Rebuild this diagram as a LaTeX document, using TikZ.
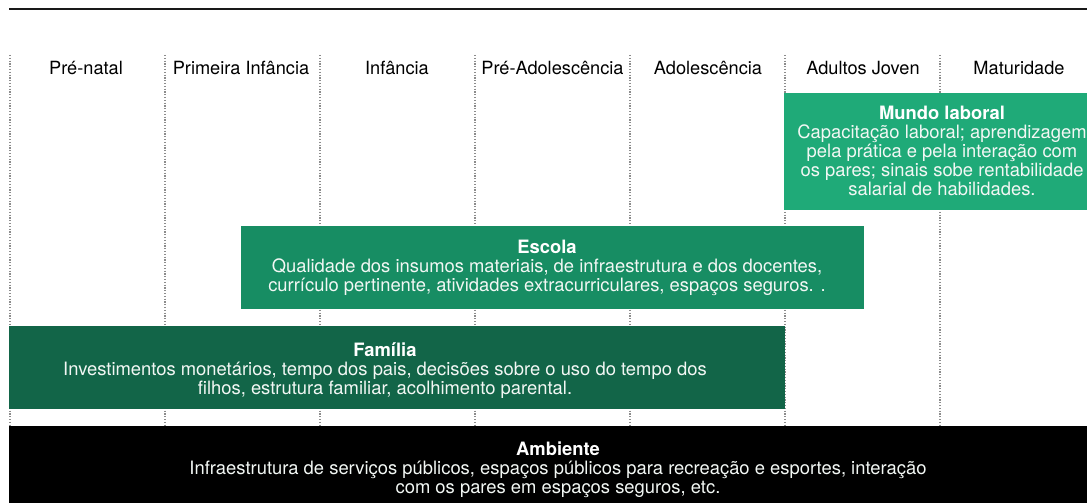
\documentclass[tikz,border=0pt]{standalone}
\usepackage{fontspec}
\setmainfont{TeX Gyre Heros}
\definecolor{cMundo}{HTML}{1FAA78}
\definecolor{cEscola}{HTML}{178D63}
\definecolor{cFamilia}{HTML}{126548}
\definecolor{cDot}{HTML}{8C8C8C}
\definecolor{cTxt}{HTML}{F2F7F4}
\begin{document}
\begin{tikzpicture}[x=1pt,y=-1pt,
  hdr/.style={font=\fontsize{18.2}{19}\selectfont, text=black, inner sep=0pt, anchor=center},
  bodytxt/.style={font=\fontsize{18.4}{19}\selectfont, text=cTxt, align=center, inner sep=0pt, anchor=north},
  divider/.style={draw=cDot, line width=1.4pt, dash pattern=on 1.2pt off 1.6pt},
  rule/.style={draw=black!90, line width=1.3pt}
]
\useasboundingbox (0,0) rectangle (1087,503);
% top rule
\coordinate (ruleL) at (9,9);
\coordinate (ruleR) at (1087,9);
\draw[rule] (ruleL) -- (ruleR);
% dotted dividers
\foreach \i/\x in {0/10,1/165,2/320,3/475,4/630,5/785,6/940}{
  \coordinate (dT\i) at (\x,55);
  \coordinate (dB\i) at (\x,426);
  \draw[divider] (dT\i) -- (dB\i);
}
% headers
\node[hdr] (h1) at (86,68) {Pré-natal};
\node[hdr] (h2) at (241,68) {Primeira Infância};
\node[hdr] (h3) at (397,68) {Infância};
\node[hdr] (h4) at (552.5,68) {Pré-Adolescência};
\node[hdr] (h5) at (708,68) {Adolescência};
\node[hdr] (h6) at (863,68) {Adultos Joven};
\node[hdr] (h7) at (1019,68) {Maturidade};
% bands
\fill[cMundo] (784,93) rectangle (1087,210);
\fill[cEscola] (241,226) rectangle (864,309);
\fill[cFamilia] (9,326) rectangle (785,409);
\fill[black] (9,426) rectangle (1087,503);
% texts
\node[bodytxt] (mundo) at (942,106) {\textbf{\color{white}Mundo laboral}\\Capacitação laboral; aprendizagem\\pela prática e pela interação com\\os pares; sinais sobe rentabilidade\\salarial de habilidades.};
\node[bodytxt] (escola) at (547,240) {\textbf{\color{white}Escola}\\Qualidade dos insumos materiais, de infraestrutura e dos docentes,\\currículo pertinente, atividades extracurriculares, espaços seguros. .};
\node[bodytxt] (familia) at (385,342) {\textbf{\color{white}Família}\\Investimentos monetários, tempo dos pais, decisões sobre o uso do tempo dos\\filhos, estrutura familiar, acolhimento parental.};
\node[bodytxt] (ambiente) at (558,442) {\textbf{\color{white}Ambiente}\\Infraestrutura de serviços públicos, espaços públicos para recreação e esportes, interação\\com os pares em espaços seguros, etc.};
\end{tikzpicture}
\end{document}
